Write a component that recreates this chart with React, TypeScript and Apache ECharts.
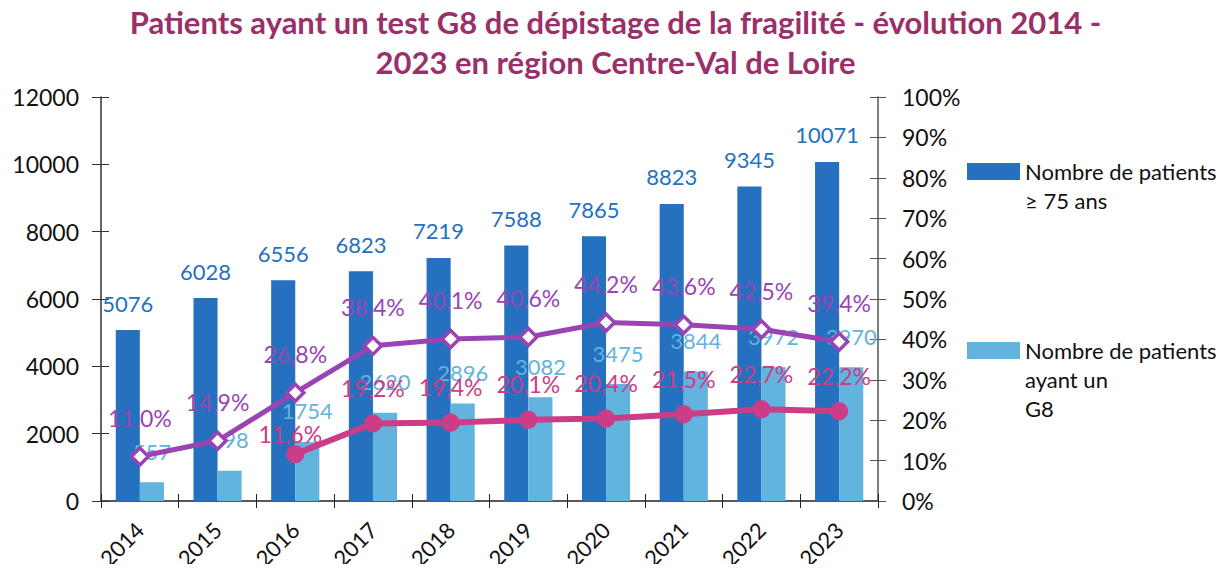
import React, { useEffect, useRef } from "react";
import * as echarts from "echarts";

const years = ["2014", "2015", "2016", "2017", "2018", "2019", "2020", "2021", "2022", "2023"];
const patients75 = [5076, 6028, 6556, 6823, 7219, 7588, 7865, 8823, 9345, 10071];
const patientsG8 = [557, 898, 1754, 2620, 2896, 3082, 3475, 3844, 3972, 3970];
const pctA = [11.0, 14.9, 26.8, 38.4, 40.1, 40.6, 44.2, 43.6, 42.5, 39.4];
const pctB = [null, null, 11.6, 19.2, 19.4, 20.1, 20.4, 21.5, 22.7, 22.2];

const leftTicks = { min: 0, max: 12000, interval: 2000 };
const rightTicks = { min: 0, max: 100, interval: 10 };

const name1 = "Nombre de patients\n≥ 75 ans";
const name2 = "Nombre de patients\nayant un\nG8";

const FONT = "Lato, 'Open Sans', sans-serif";
const DARK = "#2570BF";
const LIGHT = "#62B3DD";
const PURPLE = "#9A44B4";
const PINK = "#CC3C87";

const pct = (v: number) => v.toFixed(1).replace(".", ",") + "%";

export default function App() {
  const ref = useRef<HTMLDivElement>(null);
  useEffect(() => {
    if (!ref.current) return;
    const chart = echarts.init(ref.current, null, { renderer: "svg" });
    const yBase = {
      type: "value",
      splitLine: { show: false },
    };
    chart.setOption({
      animation: false,
      textStyle: { fontFamily: FONT },
      title: {
        text: "Patients ayant un test G8 de dépistage de la fragilité - évolution 2014 -\n2023 en région Centre-Val de Loire",
        left: "center",
        top: -3,
        textStyle: {
          fontFamily: FONT,
          fontSize: 31,
          fontWeight: "bold",
          color: "#9B2F6A",
          lineHeight: 40,
        },
      },
      legend: {
        orient: "vertical",
        left: 967,
        top: 128,
        padding: 0,
        itemWidth: 53,
        itemHeight: 17,
        itemGap: 63,
        icon: "rect",
        textStyle: { fontFamily: FONT, fontSize: 22, color: "#111", lineHeight: 29 },
        formatter: (name: string) => {
          const n = name.split("\n").length;
          return "\n".repeat(n - 1) + name;
        },
        data: [name1, name2],
      },
      grid: { left: 101, right: 353, top: 97, bottom: 71 },
      xAxis: [
        {
          type: "category",
          data: years,
          axisLine: { lineStyle: { color: "#222", width: 1.5 } },
          axisTick: { show: true, length: 7, lineStyle: { color: "#222" } },
          axisLabel: {
            rotate: 45,
            fontSize: 22,
            color: "#111",
            margin: 25,
            fontFamily: FONT,
          },
        },
        {
          type: "category",
          data: years,
          position: "bottom",
          axisLine: { show: false },
          axisTick: { show: true, inside: true, length: 7, lineStyle: { color: "#222" } },
          axisLabel: { show: false },
        },
      ],
      yAxis: [
        {
          ...yBase,
          ...leftTicks,
          position: "left",
          axisLine: { show: true, lineStyle: { color: "#333", width: 1.5 } },
          axisTick: { show: true, length: 9, lineStyle: { color: "#333" } },
          axisLabel: {
            fontSize: 23,
            color: "#111",
            margin: 22,
            fontFamily: FONT,
            formatter: (v: number) => String(v),
          },
        },
        {
          ...yBase,
          ...rightTicks,
          position: "right",
          axisLine: { show: true, lineStyle: { color: "#555", width: 1.5 } },
          axisTick: { show: true, length: 8, lineStyle: { color: "#555" } },
          axisLabel: {
            fontSize: 23,
            color: "#111",
            margin: 24,
            fontFamily: FONT,
            formatter: (v: number) => v + "%",
          },
        },
        {
          ...yBase,
          ...leftTicks,
          position: "left",
          axisLine: { show: false },
          axisTick: { show: true, inside: true, length: 8, lineStyle: { color: "#333" } },
          axisLabel: { show: false },
        },
        {
          ...yBase,
          ...rightTicks,
          position: "right",
          axisLine: { show: false },
          axisTick: { show: true, inside: true, length: 8, lineStyle: { color: "#555" } },
          axisLabel: { show: false },
        },
      ],
      series: [
        {
          name: name1,
          type: "bar",
          data: patients75,
          barGap: "0%",
          barCategoryGap: "38%",
          itemStyle: { color: DARK },
          label: {
            show: true,
            position: "top",
            distance: 16,
            fontSize: 22,
            color: DARK,
            fontFamily: FONT,
          },
        },
        {
          name: name2,
          type: "bar",
          data: patientsG8,
          itemStyle: { color: LIGHT },
          label: {
            show: true,
            position: "top",
            distance: 20,
            fontSize: 22,
            color: LIGHT,
            fontFamily: FONT,
          },
        },
        {
          name: "pctA",
          type: "line",
          yAxisIndex: 1,
          data: pctA,
          lineStyle: { color: PURPLE, width: 5 },
          itemStyle: { color: "#fff", borderColor: PURPLE, borderWidth: 3.5 },
          symbol: "diamond",
          symbolSize: 17,
          z: 5,
          label: {
            show: true,
            position: "top",
            distance: 17,
            fontSize: 23,
            color: PURPLE,
            fontFamily: FONT,
            formatter: (p: any) => pct(p.value),
          },
        },
        {
          name: "pctB",
          type: "line",
          yAxisIndex: 1,
          data: pctB.map((v, i) =>
            i === 2 && v !== null
              ? { value: v, label: { distance: 0, offset: [-5, 0] } }
              : v
          ),
          lineStyle: { color: PINK, width: 6 },
          itemStyle: { color: PINK },
          symbol: "circle",
          symbolSize: 18,
          z: 5,
          label: {
            show: true,
            position: "top",
            distance: 15,
            fontSize: 23,
            color: PINK,
            fontFamily: FONT,
            formatter: (p: any) => (p.value == null ? "" : pct(p.value)),
          },
        },
      ],
    });
    return () => chart.dispose();
  }, []);
  return <div ref={ref} style={{ width: 1231, height: 572, margin: -8 }} />;
}
